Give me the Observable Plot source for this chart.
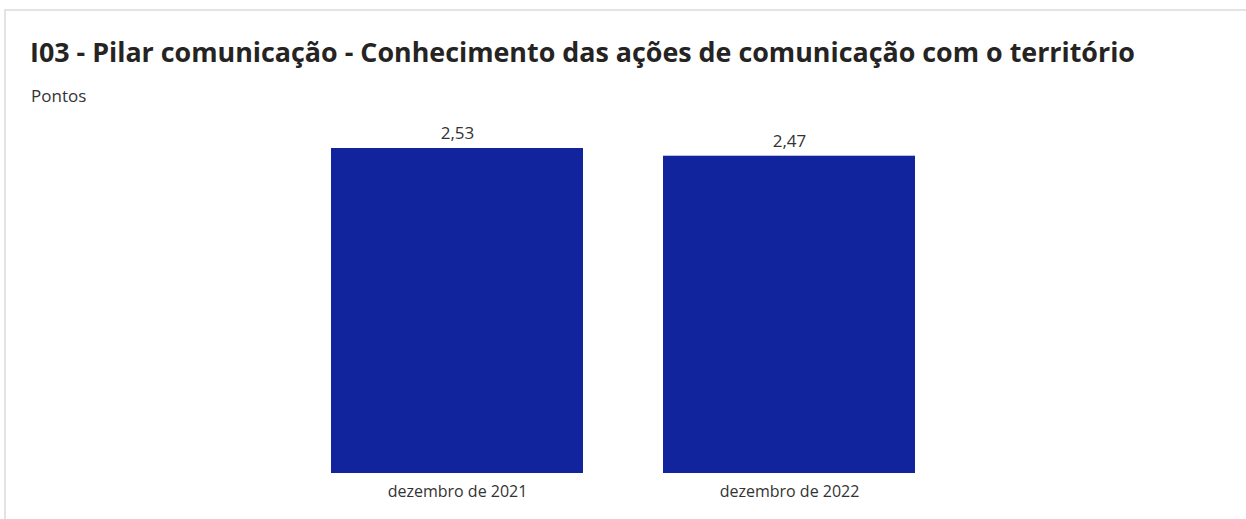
<!DOCTYPE html>
<html>
<head>
<meta charset="utf-8">
<script src="https://cdn.jsdelivr.net/npm/d3@7"></script>
<script src="https://cdn.jsdelivr.net/npm/@observablehq/plot@0.6"></script>
<style>
  html, body { margin: 0; padding: 0; background: #fff; width: 1246px; height: 519px; overflow: hidden; }
  body { position: relative; font-family: "Open Sans", sans-serif; }
  #card { position: absolute; left: 4px; top: 9px; width: 1250px; height: 520px; border-top: 2px solid #e3e3e3; border-left: 2px solid #e3e3e3; box-sizing: border-box; }
  #title { position: absolute; left: 30px; top: 33px; font-size: 26.85px; font-weight: 700; color: #252423; white-space: nowrap; }
  #subtitle { position: absolute; left: 31px; top: 84px; font-size: 17px; color: #333; }
  #chart { position: absolute; left: 0; top: 110px; }
</style>
</head>
<body>
<div id="card"></div>
<div id="title">I03 - Pilar comunicação - Conhecimento das ações de comunicação com o território</div>
<div id="subtitle">Pontos</div>
<div id="chart"></div>
<script>
const categories = ["dezembro de 2021", "dezembro de 2022"];
const values = [2.53, 2.47];
const valueLabels = ["2,53", "2,47"];

const data = categories.map((c, i) => ({category: c, value: values[i], label: valueLabels[i]}));

const chart = Plot.plot({
  width: 1246,
  height: 409,
  marginLeft: 331,
  marginRight: 331,
  marginTop: 38,
  marginBottom: 46,
  style: {fontFamily: "'Open Sans', sans-serif", fontSize: "16px", color: "#333", background: "transparent"},
  x: {domain: categories, paddingInner: 0.241, paddingOuter: 0, label: null, tickSize: 0, tickPadding: 12},
  y: {domain: [0, d3.max(values)], axis: null},
  marks: [
    Plot.barY(data, {x: "category", y: "value", fill: "#12239E"}),
    Plot.text(data, {x: "category", y: "value", text: "label", dy: -15, fill: "#333", fontSize: 17})
  ]
});
document.getElementById("chart").appendChild(chart);
</script>
</body>
</html>
